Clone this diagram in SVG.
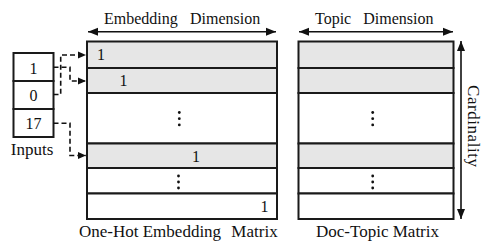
<svg xmlns="http://www.w3.org/2000/svg" width="498" height="251" viewBox="0 0 498 251" font-family="'Liberation Serif', 'DejaVu Serif', serif">
<defs>
<style>
text{font-family:'Liberation Serif','DejaVu Serif',serif;fill:#111;}
.cell{stroke:#1a1a1a;stroke-width:2;}
.g{fill:#e6e6e6;}
.w{fill:#fff;}
.dim{stroke:#111;stroke-width:1.6;fill:none;}
.dash{stroke:#111;stroke-width:1.6;fill:none;stroke-dasharray:5 3;}
.dot{fill:#111;}
</style>
<marker id="ah" markerUnits="userSpaceOnUse" markerWidth="12" markerHeight="10" refX="10" refY="5" orient="auto-start-reverse">
<path d="M0,1 L10,5 L0,9 Z" fill="#111"/>
</marker>
<marker id="ahs" markerUnits="userSpaceOnUse" markerWidth="10" markerHeight="8" refX="8" refY="4" orient="auto">
<path d="M0,0.5 L8,4 L0,7.5 Z" fill="#111"/>
</marker>
</defs>
<rect width="498" height="251" fill="#fff"/>

<g id="inputs">
<rect class="cell w" x="13.5" y="53" width="40" height="28"/>
<rect class="cell w" x="13.5" y="81" width="40" height="28"/>
<rect class="cell w" x="13.5" y="109" width="40" height="28"/>
<text x="33.5" y="73.5" font-size="16" text-anchor="middle">1</text>
<text x="33.5" y="101" font-size="16" text-anchor="middle">0</text>
<text x="33.5" y="129" font-size="16" text-anchor="middle">17</text>
<text x="32" y="155" font-size="17" text-anchor="middle">Inputs</text>
</g>

<g id="embedding-matrix">
<rect class="cell g" x="87" y="41.5" width="190" height="26.5"/>
<rect class="cell g" x="87" y="68" width="190" height="25"/>
<rect class="cell w" x="87" y="93" width="190" height="50.5"/>
<rect class="cell g" x="87" y="143.5" width="190" height="24.5"/>
<rect class="cell w" x="87" y="168" width="190" height="25.5"/>
<rect class="cell w" x="87" y="193.5" width="190" height="25.5"/>
<text x="101" y="60" font-size="16" text-anchor="middle">1</text>
<text x="123.5" y="85.5" font-size="16" text-anchor="middle">1</text>
<circle class="dot" cx="179.3" cy="112.5" r="1.4"/>
<circle class="dot" cx="179.3" cy="118.7" r="1.4"/>
<circle class="dot" cx="179.3" cy="124.9" r="1.4"/>
<text x="196" y="162" font-size="16" text-anchor="middle">1</text>
<circle class="dot" cx="178.5" cy="176" r="1.4"/>
<circle class="dot" cx="178.5" cy="182" r="1.4"/>
<circle class="dot" cx="178.5" cy="188" r="1.4"/>
<text x="264.5" y="212" font-size="16" text-anchor="middle">1</text>
<text x="79" y="237" font-size="17">One-Hot Embedding<tspan dx="6"> Matrix</tspan></text>
</g>

<g id="topic-matrix">
<rect class="cell g" x="298.5" y="41.5" width="155" height="26.5"/>
<rect class="cell g" x="298.5" y="68" width="155" height="25"/>
<rect class="cell w" x="298.5" y="93" width="155" height="50.5"/>
<rect class="cell g" x="298.5" y="143.5" width="155" height="24.5"/>
<rect class="cell w" x="298.5" y="168" width="155" height="25.5"/>
<rect class="cell w" x="298.5" y="193.5" width="155" height="25.5"/>
<circle class="dot" cx="372.7" cy="112.5" r="1.4"/>
<circle class="dot" cx="372.7" cy="118.7" r="1.4"/>
<circle class="dot" cx="372.7" cy="124.9" r="1.4"/>
<circle class="dot" cx="372.7" cy="176" r="1.4"/>
<circle class="dot" cx="372.7" cy="182" r="1.4"/>
<circle class="dot" cx="372.7" cy="188" r="1.4"/>
<text x="377.5" y="237" font-size="17" text-anchor="middle">Doc-Topic Matrix</text>
</g>

<g id="dimension-labels">
<line class="dim" x1="88" y1="31.7" x2="276" y2="31.7" marker-start="url(#ah)" marker-end="url(#ah)"/>
<text x="104" y="23.5" font-size="16">Embedding<tspan x="190">Dimension</tspan></text>
<line class="dim" x1="299" y1="31.7" x2="453" y2="31.7" marker-start="url(#ah)" marker-end="url(#ah)"/>
<text x="315" y="23.5" font-size="16">Topic<tspan x="363.3">Dimension</tspan></text>
<line class="dim" x1="461" y1="41" x2="461" y2="219" marker-start="url(#ah)" marker-end="url(#ah)"/>
<text transform="translate(467.5,126) rotate(90)" font-size="17" text-anchor="middle" textLength="82" lengthAdjust="spacing">Cardinality</text>
</g>

<g id="connectors">
<path class="dash" d="M53.5,94.5 H60.7 V55 H86" marker-end="url(#ahs)"/>
<path class="dash" d="M53.5,67.3 H70 V81 H86" marker-end="url(#ahs)"/>
<path class="dash" d="M53.5,123.3 H70 V155.5 H86" marker-end="url(#ahs)"/>
</g>
</svg>
